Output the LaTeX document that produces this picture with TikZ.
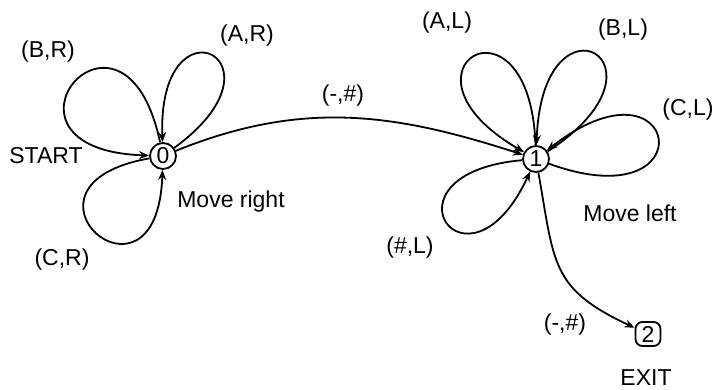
\documentclass[tikz,border=0pt]{standalone}
\usepackage{fontspec}
\setmainfont{Liberation Sans}
\usetikzlibrary{arrows.meta}

\begin{document}
\begin{tikzpicture}[x=1pt,y=1pt,font=\fontsize{23}{27}\selectfont,
  st/.style={circle,draw,line width=1.8pt,minimum size=26pt,inner sep=0pt},
  fin/.style={rectangle,rounded corners=7pt,draw,line width=1.8pt,minimum width=25pt,minimum height=24pt,inner sep=0pt},
  tr/.style={-{Stealth[length=10pt,width=8pt]},line width=1.8pt}]
\useasboundingbox (0,0) rectangle (717,390);
% states
 \node[st] (q0) at (163,234) {0};
 \node[st] (q1) at (536,231) {1};
 \node[fin] (q2) at (648,56) {2};
% loops on 0
 \draw[tr] (q0) to[out=36,in=92,min distance=150pt] (q0);
 \draw[tr] (q0) to[out=102,in=178,min distance=176pt] (q0);
 \draw[tr] (q0) to[out=190,in=268,min distance=156pt] (q0);
% loops on 1
 \draw[tr] (q1) to[out=92,in=150,min distance=164pt] (q1);
 \draw[tr] (q1) to[out=33,in=88,min distance=162pt] (q1);
 \draw[tr] (q1) to[out=-20,in=38,min distance=170pt] (q1);
 \draw[tr] (q1) to[out=185,in=245,min distance=150pt] (q1);
% moves
 \draw[tr] (q0) to[out=22,in=162] (q1);
 \draw[tr] (q1) to[out=-80,in=155,looseness=1.3] (q2);
% labels
 \node (lbr) at (48,338) {(B,R)};
 \node (lar) at (247,354) {(A,R)};
 \node (lstart) at (46,234) {START};
 \node (lmr) at (231,188) {Move right};
 \node (lcr) at (62,130) {(C,R)};
 \node (lmv) at (343,294) {(-,\#)};
 \node (lal) at (447,367) {(A,L)};
 \node (lbl) at (623,360) {(B,L)};
 \node (lcl) at (688,280) {(C,L)};
 \node (lml) at (630,177) {Move left};
 \node (lhl) at (410,142) {(\#,L)};
 \node (lex) at (565,65) {(-,\#)};
 \node (lexit) at (646,12) {EXIT};
\end{tikzpicture}
\end{document}
